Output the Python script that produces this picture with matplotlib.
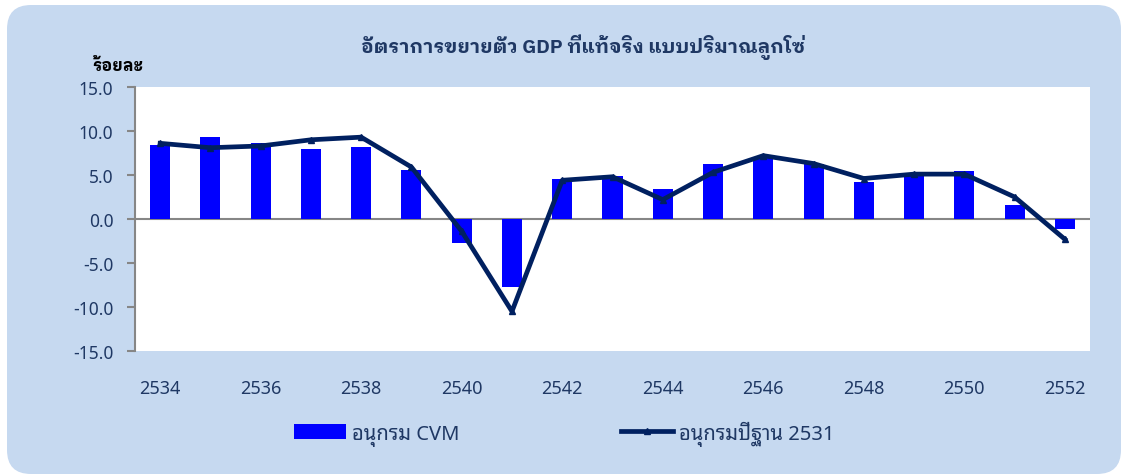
import matplotlib
matplotlib.use("Agg")
import matplotlib.pyplot as plt
from matplotlib.patches import FancyBboxPatch

plt.rcParams["font.family"] = ["Noto Sans Thai Looped", "Noto Sans", "DejaVu Sans"]

# ปี พ.ศ. 2534 - 2552
years = list(range(2534, 2553))
cvm = [8.4, 9.3, 8.6, 8.0, 8.2, 5.6, -2.7, -7.7, 4.6, 4.9,
       3.4, 6.2, 7.1, 6.3, 4.2, 5.0, 5.4, 1.6, -1.1]
base_2531 = [8.6, 8.1, 8.3, 9.0, 9.3, 5.9, -1.4, -10.5, 4.4, 4.8,
             2.2, 5.3, 7.2, 6.3, 4.6, 5.1, 5.1, 2.5, -2.3]
year_labels = [str(y) if (y - years[0]) % 2 == 0 else "" for y in years]
yticks = [15.0, 10.0, 5.0, 0.0, -5.0, -10.0, -15.0]

navy = "#1f3864"
bg = "#c6d9f0"
bold_fonts = ["IBM Plex Sans Thai Looped", "Noto Sans", "DejaVu Sans"]

fig = plt.figure(figsize=(11.26, 4.77), dpi=100)
fig.patch.set_facecolor("white")
W, H = 1126, 477

# background panel in pixel coords
bgax = fig.add_axes([0, 0, 1, 1], zorder=-5)
bgax.set_xlim(0, W)
bgax.set_ylim(0, H)
bgax.axis("off")
bgax.add_patch(FancyBboxPatch((7, 2), 1114, 469,
                              boxstyle="round,pad=0,rounding_size=24",
                              facecolor=bg, edgecolor="none"))

ax = fig.add_axes([135 / W, 1 - 352 / H, (1090 - 135) / W, (352 - 88) / H])
ax.set_facecolor("white")

x = list(range(len(years)))
bars = ax.bar(x, cvm, width=0.4, color="#0000ff", label="อนุกรม CVM", zorder=2)
line, = ax.plot(x, base_2531, color="#002060", linewidth=3.4, marker="^",
                markersize=5, label="อนุกรมปีฐาน 2531", zorder=3)
ax.axhline(0, color="#868686", linewidth=1.5, zorder=1)

ax.set_xlim(-0.5, len(years) - 0.5)
ax.set_ylim(-15, 15)
ax.set_yticks(yticks)
ax.set_yticklabels(["%.1f" % v for v in yticks])
ax.set_xticks(x)
ax.set_xticklabels(year_labels)

for s in ["top", "right", "bottom"]:
    ax.spines[s].set_visible(False)
ax.spines["left"].set_color("#868686")
ax.spines["left"].set_linewidth(1.5)
ax.tick_params(axis="y", colors="#868686", labelcolor=navy, length=5.5,
               width=1.5, labelsize=12.5, pad=10)
ax.tick_params(axis="x", length=0, labelcolor=navy, labelsize=13, pad=20)

fig.text(583 / W, 1 - 47 / H, "อัตราการขยายตัว GDP ที่แท้จริง แบบปริมาณลูกโซ่",
         ha="center", va="center", fontsize=14, fontweight="bold", color=navy,
         family=bold_fonts)
fig.text(118 / W, 1 - 66 / H, "ร้อยละ", ha="center", va="center",
         fontsize=12, fontweight="bold", color="black", family=bold_fonts)

fig.legend([bars, line], ["อนุกรม CVM", "อนุกรมปีฐาน 2531"], loc="center",
           bbox_to_anchor=(564 / W, 1 - 434 / H), ncol=2,
           frameon=False, fontsize=14.5, handlelength=2.6, handleheight=0.8,
           handletextpad=0.3, columnspacing=8.0, labelcolor=navy)

fig.savefig("out.png", dpi=100, facecolor="white")
